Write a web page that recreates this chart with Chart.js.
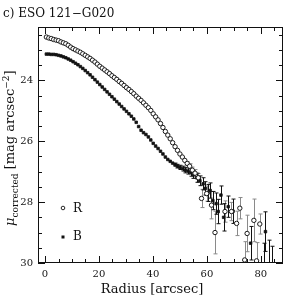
<!DOCTYPE html>
<html>
<head>
<meta charset="utf-8">
<script src="https://cdn.jsdelivr.net/npm/chart.js@4"></script>
<style>
  html, body { margin: 0; padding: 0; background: #fff; }
  canvas { display: block; }
</style>
</head>
<body>
<canvas id="profileChart" width="300" height="300"></canvas>
<script>
// R band profile (inner, no error bars)
const rRadius = [0.5, 1.4, 2.3, 3.2, 4.1, 5.0, 5.9, 6.8, 7.7, 8.6, 9.5, 10.4, 11.3, 12.2, 13.1, 14.0,
  14.9, 15.8, 16.7, 17.6, 18.5, 19.4, 20.3, 21.2, 22.1, 23.0, 23.9, 24.8, 25.7, 26.6, 27.5, 28.4,
  29.3, 30.2, 31.1, 32.0, 32.9, 33.8, 34.7, 35.6, 36.5, 37.4, 38.3, 39.2, 40.1, 41.0, 41.9, 42.8,
  43.7, 44.6, 45.5, 46.4, 47.3, 48.2, 49.1, 50.0, 50.9, 51.8];
const rMu = [22.58, 22.61, 22.63, 22.66, 22.68, 22.70, 22.74, 22.77, 22.80, 22.85, 22.91, 22.96, 23.00, 23.04, 23.08, 23.13,
  23.18, 23.23, 23.28, 23.34, 23.40, 23.47, 23.54, 23.60, 23.66, 23.72, 23.78, 23.85, 23.91, 23.97, 24.04, 24.10,
  24.17, 24.24, 24.30, 24.37, 24.44, 24.52, 24.59, 24.66, 24.74, 24.82, 24.90, 24.99, 25.10, 25.20, 25.30, 25.42,
  25.55, 25.68, 25.80, 25.92, 26.05, 26.18, 26.30, 26.42, 26.52, 26.63];
// R band outer points with errors
const rOuterRadius = [52.7, 53.6, 54.6, 55.6, 56.8, 58.0, 59.9, 61.7, 63.0, 66.7, 69.1, 71.0, 72.2, 74.0, 74.9, 77.4, 78.4, 79.6];
const rOuterMu = [26.73, 26.82, 26.95, 27.05, 27.20, 27.88, 27.72, 28.10, 29.00, 28.31, 28.31, 28.70, 28.20, 29.90, 29.03, 28.60, 29.93, 28.72];
const rOuterErr = [0.06, 0.08, 0.10, 0.12, 0.14, 0.30, 0.25, 0.45, 0.70, 0.35, 0.30, 0.40, 0.35, 0.60, 0.60, 0.70, 0.60, 0.33];

// B band profile (inner, no error bars)
const bRadius = [0.5, 1.4, 2.3, 3.2, 4.1, 5.0, 5.9, 6.8, 7.7, 8.6, 9.5, 10.4, 11.3, 12.2, 13.1, 14.0,
  14.9, 15.8, 16.7, 17.6, 18.5, 19.4, 20.3, 21.2, 22.1, 23.0, 23.9, 24.8, 25.7, 26.6, 27.5, 28.4,
  29.3, 30.2, 31.1, 32.0, 32.9, 33.8, 34.7, 35.6, 36.5, 37.4, 38.3, 39.2, 40.1, 41.0, 41.9, 42.8,
  43.7, 44.6, 45.5, 46.4, 47.3];
const bMu = [23.14, 23.14, 23.15, 23.15, 23.16, 23.18, 23.20, 23.23, 23.26, 23.30, 23.34, 23.39, 23.44, 23.49, 23.55, 23.61,
  23.68, 23.75, 23.82, 23.90, 23.98, 24.06, 24.14, 24.22, 24.30, 24.38, 24.46, 24.54, 24.62, 24.70, 24.78, 24.86,
  24.94, 25.02, 25.10, 25.18, 25.27, 25.38, 25.52, 25.64, 25.72, 25.78, 25.86, 25.96, 26.07, 26.16, 26.24, 26.33,
  26.42, 26.52, 26.60, 26.66, 26.72];
// B band outer points with errors
const bOuterRadius = [48.2, 49.1, 50.0, 51.0, 52.0, 53.0, 54.0, 55.0, 56.2, 57.4, 58.6, 59.4, 60.4, 61.2, 62.2, 63.4,
  64.2, 65.2, 66.2, 67.9, 69.7, 76.2, 81.7, 81.3, 82.9, 84.2];
const bOuterMu = [26.77, 26.82, 26.86, 26.90, 26.95, 26.98, 27.03, 27.10, 27.20, 27.30, 27.40, 27.55, 27.70, 27.62, 27.95, 28.05,
  28.31, 27.77, 28.50, 28.15, 28.30, 29.35, 28.97, 30.30, 30.30, 30.35];
const bOuterErr = [0.05, 0.06, 0.07, 0.08, 0.09, 0.10, 0.12, 0.12, 0.15, 0.16, 0.20, 0.22, 0.28, 0.25, 0.30, 0.35,
  0.40, 0.30, 0.45, 0.35, 0.40, 0.55, 0.65, 0.95, 1.05, 0.90];

// axis ranges and tick labels
const xRange = [-2.6, 88.2];
const yRange = [22.25, 30];
const xTickLabels = [0, 20, 40, 60, 80];
const yTickLabels = [24, 26, 28, 30];

const serif = '"DejaVu Serif", "Liberation Serif", serif';

const toPoints = (xs, ys) => xs.map((x, i) => ({ x: x, y: ys[i] }));
const near = (v, list) => list.some(l => Math.abs(v - l) < 1e-6);
const isMultiple = (v, step) => Math.abs(v / step - Math.round(v / step)) < 1e-6;

// vertical error bars drawn through the chart's own scales
const errorBars = {
  id: 'errorBars',
  beforeDatasetsDraw(chart) {
    const { ctx, chartArea: a, scales: { x, y } } = chart;
    ctx.save();
    ctx.beginPath();
    ctx.rect(a.left, a.top, a.right - a.left, a.bottom - a.top);
    ctx.clip();
    chart.data.datasets.forEach(ds => {
      ctx.strokeStyle = ds.errColor;
      ctx.lineWidth = 1;
      ds.data.forEach((p, i) => {
        const e = ds.errors[i];
        if (!e) return;
        const px = Math.round(x.getPixelForValue(p.x)) + 0.5;
        const y1 = y.getPixelForValue(p.y - e);
        const y2 = y.getPixelForValue(p.y + e);
        ctx.beginPath();
        ctx.moveTo(px, y1); ctx.lineTo(px, y2);
        ctx.moveTo(px - 2, y1); ctx.lineTo(px + 2, y1);
        ctx.moveTo(px - 2, y2); ctx.lineTo(px + 2, y2);
        ctx.stroke();
      });
    });
    ctx.restore();
  }
};

// frame, inward ticks, titles and legend
const decorations = {
  id: 'decorations',
  afterDraw(chart) {
    const { ctx, chartArea: a, scales: { x, y } } = chart;
    ctx.save();
    ctx.strokeStyle = '#111';
    ctx.lineWidth = 1;
    ctx.strokeRect(Math.round(a.left) + 0.5, Math.round(a.top) + 0.5,
      Math.round(a.right - a.left) - 1, Math.round(a.bottom - a.top) - 1);

    ctx.beginPath();
    x.ticks.forEach(t => {
      if (!isMultiple(t.value, 5)) return;
      const px = Math.round(x.getPixelForValue(t.value)) + 0.5;
      const len = near(t.value, xTickLabels) ? 7 : 4;
      ctx.moveTo(px, a.bottom); ctx.lineTo(px, a.bottom - len);
      ctx.moveTo(px, a.top); ctx.lineTo(px, a.top + len);
    });
    y.ticks.forEach(t => {
      if (!isMultiple(t.value, 0.5)) return;
      const py = Math.round(y.getPixelForValue(t.value)) + 0.5;
      const len = isMultiple(t.value, 2) ? 7 : 4;
      ctx.moveTo(a.left, py); ctx.lineTo(a.left + len, py);
      ctx.moveTo(a.right, py); ctx.lineTo(a.right - len, py);
    });
    ctx.stroke();

    ctx.fillStyle = '#111';
    ctx.textBaseline = 'alphabetic';
    ctx.textAlign = 'left';
    ctx.font = '12px ' + serif;
    ctx.fillText('c) ESO 121\u2212G020', 3, 17);

    ctx.textAlign = 'center';
    ctx.font = '13px ' + serif;
    ctx.fillText('Radius [arcsec]', 152, 293);

    // y axis title, rotated
    ctx.save();
    ctx.translate(14, 226);
    ctx.rotate(-Math.PI / 2);
    ctx.textAlign = 'left';
    let cx = 0;
    ctx.font = 'italic 13px ' + serif;
    ctx.fillText('\u03bc', cx, 0);
    cx += ctx.measureText('\u03bc').width;
    ctx.font = '9px ' + serif;
    ctx.fillText('corrected', cx, 4);
    cx += ctx.measureText('corrected').width;
    ctx.font = '13px ' + serif;
    ctx.fillText(' [mag arcsec', cx, 0);
    cx += ctx.measureText(' [mag arcsec').width;
    ctx.font = '9px ' + serif;
    ctx.fillText('\u22122', cx, -5);
    cx += ctx.measureText('\u22122').width;
    ctx.font = '13px ' + serif;
    ctx.fillText(']', cx, 0);
    ctx.restore();

    // legend inside the plot
    ctx.font = '12px ' + serif;
    ctx.textAlign = 'left';
    ctx.textBaseline = 'middle';
    ctx.lineWidth = 0.9;
    ctx.beginPath();
    ctx.arc(63, 208, 1.8, 0, Math.PI * 2);
    ctx.fillStyle = '#fff';
    ctx.fill();
    ctx.stroke();
    ctx.fillStyle = '#111';
    ctx.fillText('R', 73, 209);
    ctx.fillRect(61.5, 235.5, 3, 3);
    ctx.fillText('B', 73, 237);
    ctx.restore();
  }
};

const ctx = document.getElementById('profileChart').getContext('2d');
new Chart(ctx, {
  type: 'scatter',
  data: {
    datasets: [
      {
        label: 'R',
        data: toPoints(rRadius, rMu).concat(toPoints(rOuterRadius, rOuterMu)),
        errors: new Array(rRadius.length).fill(0).concat(rOuterErr),
        errColor: '#8a8a8a',
        pointStyle: 'circle',
        pointRadius: 2.2,
        borderWidth: 1,
        borderColor: '#1a1a1a',
        backgroundColor: '#fff'
      },
      {
        label: 'B',
        data: toPoints(bRadius, bMu).concat(toPoints(bOuterRadius, bOuterMu)),
        errors: new Array(bRadius.length).fill(0).concat(bOuterErr),
        errColor: '#111',
        pointStyle: 'rect',
        pointRadius: 1.8,
        borderWidth: 0.8,
        borderColor: '#111',
        backgroundColor: '#111'
      }
    ]
  },
  options: {
    responsive: false,
    animation: false,
    layout: { padding: { top: 27, right: 17, left: 0, bottom: 0 } },
    plugins: { legend: { display: false }, tooltip: { enabled: false } },
    scales: {
      x: {
        type: 'linear',
        min: xRange[0],
        max: xRange[1],
        grid: { display: false, drawTicks: false },
        border: { display: false },
        ticks: {
          stepSize: 5,
          includeBounds: false,
          autoSkip: false,
          maxRotation: 0,
          padding: 5,
          color: '#111',
          font: { family: serif, size: 10 },
          callback: v => near(v, xTickLabels) ? String(Math.round(v)) : ''
        },
        afterFit(s) { s.height = 37; }
      },
      y: {
        type: 'linear',
        reverse: true,
        min: yRange[0],
        max: yRange[1],
        grid: { display: false, drawTicks: false },
        border: { display: false },
        ticks: {
          stepSize: 0.5,
          includeBounds: false,
          autoSkip: false,
          padding: 5,
          color: '#111',
          font: { family: serif, size: 10 },
          callback: v => near(v, yTickLabels) ? String(Math.round(v)) : ''
        },
        afterFit(s) { s.width = 38; }
      }
    }
  },
  plugins: [errorBars, decorations]
});
</script>
</body>
</html>
